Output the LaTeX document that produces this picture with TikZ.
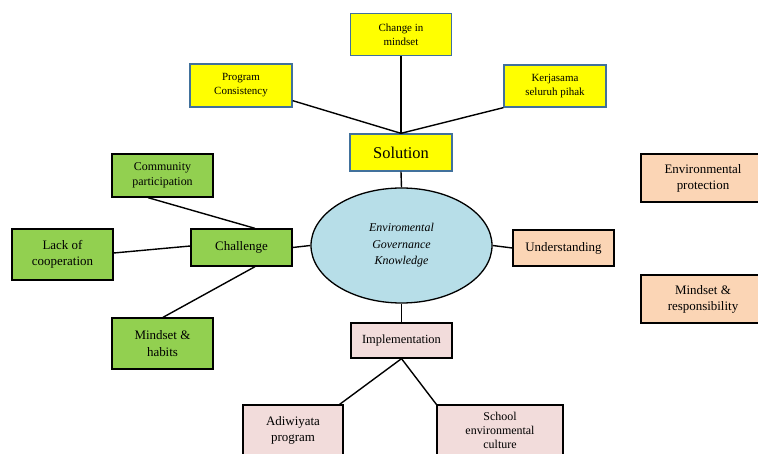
\documentclass[tikz,border=0pt]{standalone}
\usepackage{fontspec}
\setmainfont{Liberation Serif}
\usetikzlibrary{shapes.geometric}
\definecolor{ybox}{HTML}{FFFF00}
\definecolor{yborder}{HTML}{41719C}
\definecolor{gbox}{HTML}{92D050}
\definecolor{pbox}{HTML}{FBD5B5}
\definecolor{rbox}{HTML}{F2DCDB}
\definecolor{ell}{HTML}{B7DEE8}
\tikzset{
  base/.style={rectangle, inner sep=0pt, align=center, line width=1.3bp},
  ybx/.style={base, fill=ybox, draw=yborder, font=\fontsize{11}{14}\selectfont},
  gbx/.style={base, fill=gbox, draw=black, font=\fontsize{13}{16.5}\selectfont},
  pbx/.style={base, fill=pbox, draw=black, font=\fontsize{13}{16}\selectfont},
  rbx/.style={base, fill=rbox, draw=black, font=\fontsize{12.5}{14.5}\selectfont},
  conn/.style={line width=1.4bp, draw=black}
}
\begin{document}
\begin{tikzpicture}[x=1bp,y=-1bp]
\useasboundingbox (0,0) rectangle (758,454);
\clip (0,0) rectangle (758,454);
% yellow
\node[ybx, minimum width=101bp, minimum height=42bp] (chg) at (401,34.5) {Change in\\mindset};
\node[ybx, minimum width=102bp, minimum height=43bp] (prog) at (241,85.5) {Program\\Consistency};
\node[ybx, minimum width=102bp, minimum height=42bp] (kerja) at (555,86) {Kerjasama\\seluruh pihak};
\node[ybx, minimum width=102bp, minimum height=37bp, font=\fontsize{16.5}{18}\selectfont] (sol) at (401,152.5) {Solution};
% ellipse
\node[ellipse, fill=ell, draw=black, line width=1.3bp, minimum width=181bp, minimum height=115bp, inner sep=0pt, align=center, font=\itshape\fontsize{12}{16.5}\selectfont] (env) at (401.5,245.5) {Enviromental\\Governance\\Knowledge};
% green
\node[gbx, minimum width=101bp, minimum height=43bp, font=\fontsize{12}{15}\selectfont] (comm) at (162.5,175.5) {Community\\participation};
\node[gbx, minimum width=101bp, minimum height=51bp] (lack) at (62.5,254.5) {Lack of\\cooperation};
\node[gbx, minimum width=101bp, minimum height=37bp] (chal) at (241.5,247.5) {\raisebox{2bp}{Challenge}};
\node[gbx, minimum width=101bp, minimum height=51bp] (mh) at (162.5,343.5) {Mindset \&\\habits};
% peach
\node[pbx, minimum width=101bp, minimum height=36bp] (und) at (563.5,248) {\raisebox{2bp}{Understanding}};
\node[pbx, minimum width=124bp, minimum height=48bp] (envp) at (703,178) {Environmental\\protection};
\node[pbx, minimum width=124bp, minimum height=48bp] (mr) at (703,299) {Mindset \&\\responsibility};
% pink
\node[rbx, minimum width=101bp, minimum height=35bp] (impl) at (401.5,340.5) {\raisebox{3bp}{Implementation}};
\node[rbx, minimum width=100bp, minimum height=50bp, font=\fontsize{13}{16}\selectfont] (adi) at (293,430) {Adiwiyata\\program};
\node[rbx, minimum width=126bp, minimum height=50bp, font=\fontsize{12}{14}\selectfont] (school) at (500,430) {School\\environmental\\culture};
% connectors
\draw[conn] (chg.south) -- (sol.north);
\draw[conn] ([yshift=7bp]prog.south east) -- (sol.north);
\draw[conn] (kerja.south west) -- (sol.north);
\draw[conn] (sol.south) -- (env.north);
\draw[conn] (chal.east) -- (env.west);
\draw[conn] (env.east) -- (und.west);
\draw[conn] (env.south) -- (impl.north);
\draw[conn] ([xshift=-14.5bp]comm.south) -- ([xshift=13.5bp]chal.north);
\draw[conn] ([yshift=1.5bp]lack.east) -- ([yshift=1.5bp]chal.west);
\draw[conn] ([xshift=13.5bp]chal.south) -- ([xshift=0.5bp]mh.north);
\draw[conn] (impl.south) -- ([xshift=-4bp]adi.north east);
\draw[conn] (impl.south) -- (school.north west);
\end{tikzpicture}
\end{document}
